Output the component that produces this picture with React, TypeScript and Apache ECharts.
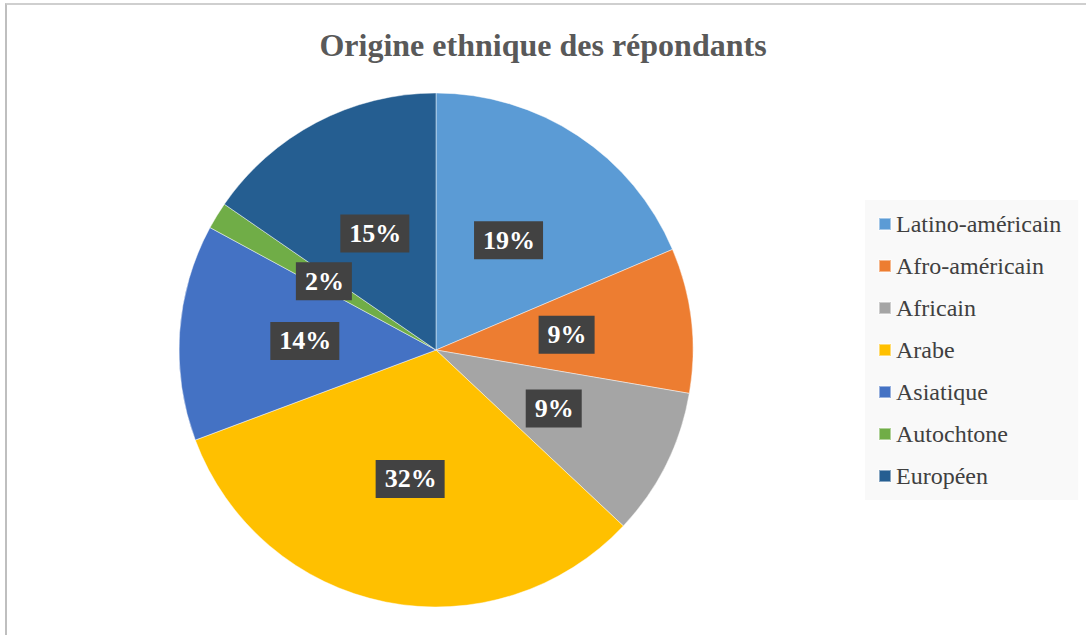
import React, { useEffect, useRef, useState } from "react";
import * as echarts from "echarts";

const categories = [
  "Latino-américain",
  "Afro-américain",
  "Africain",
  "Arabe",
  "Asiatique",
  "Autochtone",
  "Européen",
];
const values = [18.6, 9.1, 9.3, 32.3, 13.6, 1.7, 15.4];
const colors = ["#5B9BD5", "#ED7D31", "#A5A5A5", "#FFC000", "#4472C4", "#70AD47", "#255E91"];
const title = "Origine ethnique des répondants";

export default function App() {
  const ref = useRef<HTMLDivElement>(null);
  const [info, setInfo] = useState("");
  useEffect(() => {
    const chart = echarts.init(ref.current!, null, { renderer: "svg" });
    const serif = "Liberation Serif";
    chart.setOption({
      animation: false,
      backgroundColor: "transparent",
      textStyle: { fontFamily: serif },
      title: {
        text: title,
        left: "center",
        top: 24,
        textStyle: { fontFamily: serif, fontSize: 32, fontWeight: "bold", color: "#595959" },
      },
      legend: {
        orient: "vertical",
        left: 865,
        top: 200,
        backgroundColor: "#f9f9f9",
        padding: [12, 17, 12, 13],
        itemWidth: 12,
        itemHeight: 12,
        itemGap: 18,
        icon: "rect",
        data: categories,
        textStyle: { fontFamily: serif, fontSize: 24, lineHeight: 24, color: "#404040" },
      },
      series: [
        {
          type: "pie",
          center: [436, 350],
          radius: 257,
          startAngle: 90,
          clockwise: true,
          itemStyle: { borderColor: "rgba(255,255,255,0.45)", borderWidth: 1 },
          label: {
            show: true,
            position: "inside",
            formatter: (p: any) => Math.round(p.percent) + "%",
            fontFamily: serif,
            fontSize: 26,
            fontWeight: "bold",
            color: "#ffffff",
            backgroundColor: "#424242",
            padding: [6, 8, 6, 9],
          },
          labelLine: { show: false },
          data: categories.map((c, i) => ({ name: c, value: values[i], itemStyle: { color: colors[i] } })),
        },
      ],
    });
    const texts = Array.from(ref.current!.querySelectorAll("text"));
    setInfo(texts.map((t) => t.textContent).join(" | "));
    return () => chart.dispose();
  }, []);
  return (
    <>
      <div
        style={{
          position: "absolute",
          left: 5,
          top: 3,
          width: 1100,
          height: 700,
          background: "#ffffff",
          borderLeft: "2px solid #bfbfbf",
          borderTop: "2px solid #cfcfcf",
        }}
      />
      <div
        ref={ref}
        style={{ position: "absolute", left: 0, top: 0, width: 1086, height: 635 }}
      />
      <pre style={{ position: "absolute", left: -5000, top: 0, fontSize: 11, margin: 0 }}>{info}</pre>
    </>
  );
}
